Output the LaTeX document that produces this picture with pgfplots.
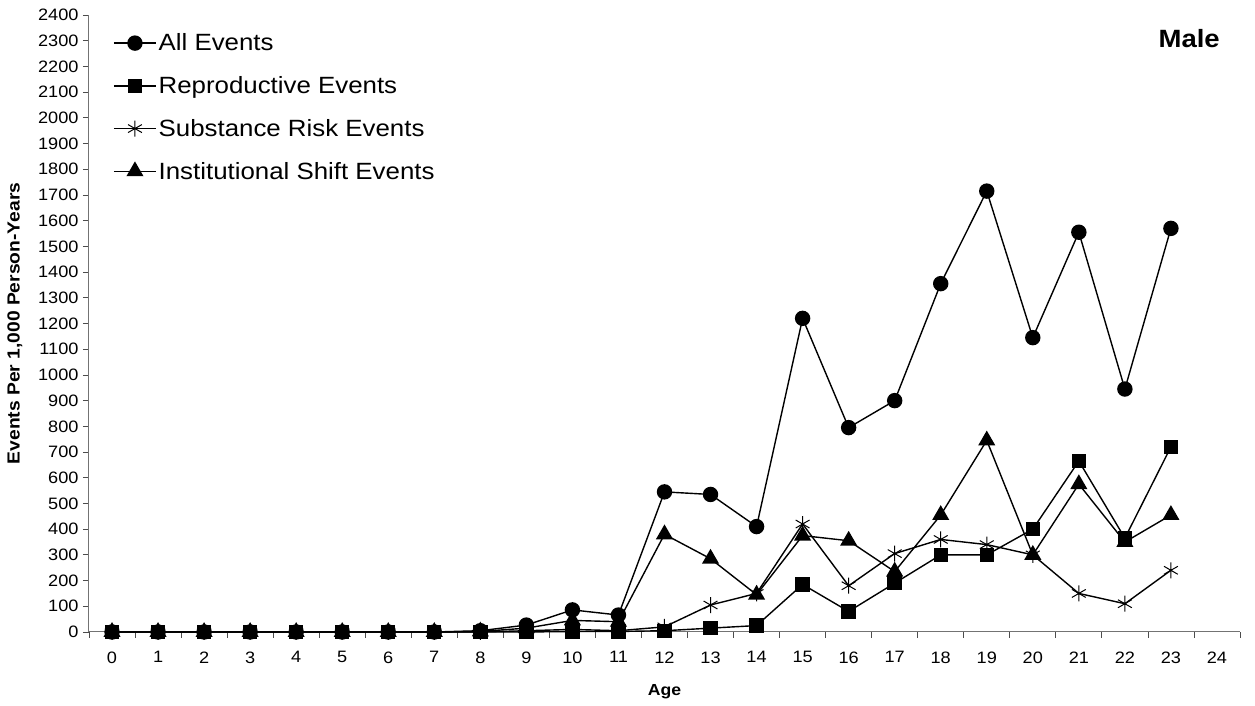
\documentclass[border=0pt]{standalone}
\usepackage{pgfplots}
\pgfplotsset{compat=1.18}
\usepackage{fontspec}
\setmainfont[FakeStretch=1.1]{Liberation Sans}
\begin{document}
\begin{tikzpicture}[x=1pt,y=1pt]
\begin{axis}[
  at={(0,0)}, anchor=south west,
  scale only axis, width=1151pt, height=617pt,
  xmin=-0.5, xmax=24.5, ymin=0, ymax=2400,
  axis lines*=left,
  axis line style={black!55, line width=1pt},
  xtick={0,...,24},
  major x tick style={draw=none},
  minor xtick={-0.5,0.5,...,24.5},
  minor x tick style={black!70, line width=0.8pt},
  minor tick length=6pt,
  ytick={0,100,...,2400},
  major tick length=6pt,
  tick align=outside,
  y tick style={black!70, line width=0.8pt},
  tick label style={font=\fontsize{16.5}{19}\selectfont},
  /pgf/number format/assume math mode=true,
  scaled y ticks=false,
  yticklabel style={/pgf/number format/1000 sep={}, xshift=-1pt},
  xticklabel style={yshift=-10pt},
  xlabel={\textbf{Age}},
  ylabel={\textbf{Events Per 1,000 Person-Years}},
  label style={font=\fontsize{16}{18}\selectfont},
  ylabel style={font=\fontsize{17.5}{19}\selectfont, yshift=9pt},
  xlabel style={yshift=-14pt},
  every axis plot/.append style={black, line width=1.4pt, mark options={solid, fill=black}},
  legend style={at={(rel axis cs:0.0209,0.973)}, anchor=north west, draw=none, fill=none,
    font=\fontsize{23.5}{27}\selectfont, row sep=20.2pt, inner sep=0pt},
  legend cell align=left,
  legend image code/.code={\draw[mark repeat=2,mark phase=2,#1] plot coordinates {(0pt,0pt) (21pt,0pt) (42pt,0pt)};},
  clip=false,
]
\addplot[mark=*, mark size=7pt] coordinates {
(0,0)(1,0)(2,0)(3,0)(4,0)(5,0)(6,0)(7,0)(8,5)(9,27)(10,86)(11,66)(12,545)(13,535)(14,410)(15,1220)(16,795)(17,900)(18,1355)(19,1715)(20,1145)(21,1555)(22,945)(23,1570)};
\addlegendentry{All Events}
\addplot[mark=square*, mark size=6.5pt] coordinates {
(0,0)(1,0)(2,0)(3,0)(4,0)(5,0)(6,0)(7,0)(8,0)(9,0)(10,2)(11,2)(12,5)(13,15)(14,25)(15,185)(16,80)(17,190)(18,300)(19,300)(20,400)(21,665)(22,365)(23,720)};
\addlegendentry{Reproductive Events}
\addplot[mark=asterisk, mark size=8pt, mark options={line width=1pt}] coordinates {
(0,0)(1,0)(2,0)(3,0)(4,0)(5,0)(6,0)(7,0)(8,0)(9,5)(10,10)(11,5)(12,20)(13,105)(14,150)(15,420)(16,180)(17,305)(18,360)(19,340)(20,300)(21,150)(22,110)(23,240)};
\addlegendentry{Substance Risk Events}
\addplot[mark=triangle*, mark size=8.5pt] coordinates {
(0,0)(1,0)(2,0)(3,0)(4,0)(5,0)(6,0)(7,0)(8,2)(9,15)(10,45)(11,40)(12,380)(13,285)(14,145)(15,375)(16,355)(17,235)(18,455)(19,745)(20,300)(21,575)(22,350)(23,455)};
\addlegendentry{Institutional Shift Events}
\node[anchor=base east, inner sep=0pt, font=\fontsize{25}{28}\selectfont\bfseries] at (rel axis cs:0.9826,0.948) {Male};
\end{axis}
\path (-89,-74) rectangle (1166,632);
\end{tikzpicture}
\end{document}
